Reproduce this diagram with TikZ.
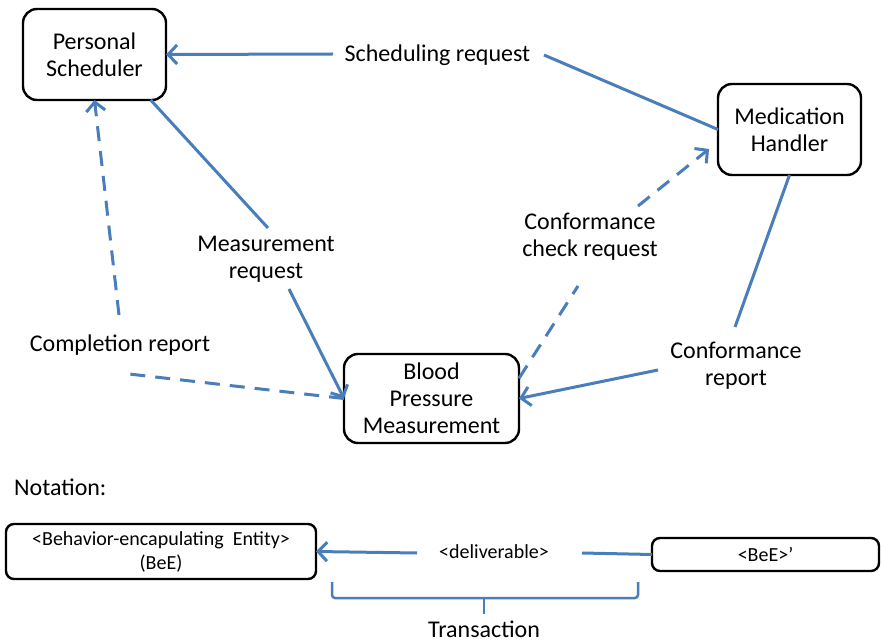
\documentclass[tikz,border=0pt]{standalone}
\usepackage{fontspec}
\setmainfont{Carlito}
\usetikzlibrary{arrows.meta}
\definecolor{linkblue}{RGB}{74,126,187}
\begin{document}
\begin{tikzpicture}[x=1pt,y=-1pt,
  entity/.style={draw=black,line width=2.4pt,rounded corners=14pt,align=center,
    font=\fontsize{24}{27}\selectfont,inner sep=0pt,outer sep=0pt},
  smallentity/.style={entity,rounded corners=8pt,font=\fontsize{20}{24}\selectfont},
  lbl/.style={align=center,font=\fontsize{24}{27}\selectfont,inner sep=0pt},
  smalllbl/.style={lbl,font=\fontsize{20}{24}\selectfont},
  link/.style={draw=linkblue,line width=3pt},
  dashlink/.style={link,dash pattern=on 15pt off 10pt},
  tip/.style={-{Straight Barb[length=9pt,width=19pt]}}
]
\useasboundingbox (0,0) rectangle (881,644);

% behaviour-encapsulating entities
\node[entity,minimum width=143pt,minimum height=91pt] (ps)  at (94.5,54.5)  {Personal\\Scheduler};
\node[entity,minimum width=143pt,minimum height=91pt] (mh)  at (789.5,129.5) {Medication\\Handler};
\node[entity,minimum width=175pt,minimum height=89pt] (bpm) at (431.5,398.5) {Blood\\Pressure\\Measurement};

% transaction labels
\node[lbl] (srl) at (437.5,55)  {Scheduling request};
\node[lbl] (mrl) at (266,259)   {Measurement\\request};
\node[lbl] (crl) at (120,345)   {Completion report};
\node[lbl] (ccl) at (590,237)   {Conformance\\check request};
\node[lbl] (cfl) at (736,366)   {Conformance\\report};

% free ends of the split connectors
\coordinate (srA) at (544,55);
\coordinate (srB) at (333,54);
\coordinate (mrA) at (268,228);
\coordinate (mrB) at (289,289);
\coordinate (crA) at (129,374);
\coordinate (crB) at (119,315);
\coordinate (ccA) at (578,286);
\coordinate (ccB) at (638,206);
\coordinate (ccT) at (709,149);
\coordinate (cfA) at (735,327);
\coordinate (cfB) at (658,370);

% scheduling request
\draw[link] (mh.west) -- (srA);
\draw[link,tip] (srB) -- (ps.east);
% measurement request
\draw[link] (ps.-39) -- (mrA);
\draw[link,tip] (mrB) -- (bpm.west);
% completion report
\draw[dashlink] (bpm.west) -- (crA);
\draw[dashlink,tip] (crB) -- (ps.south);
% conformance check request
\draw[dashlink] (bpm.13) -- (ccA);
\draw[dashlink,tip] (ccB) -- (ccT);
% conformance report
\draw[link] (mh.south) -- (cfA);
\draw[link,tip] (cfB) -- (bpm.east);

% notation legend
\node[lbl,anchor=west] (notation) at (14,487) {Notation:};
\node[smallentity,minimum width=310pt,minimum height=55pt] (bee) at (161,551.5)
  {<Behavior-encapulating\ \ Entity>\\(BeE)};
\node[smallentity,minimum width=227pt,minimum height=33pt] (bee2) at (765.5,554.5) {<BeE>'};
\node[smalllbl] (dl) at (494,552) {<deliverable>};
\coordinate (dlA) at (582,553);
\coordinate (dlB) at (417,553);
\draw[link] (bee2.west) -- (dlA);
\draw[link,tip] (dlB) -- (bee.east);

% bracket spanning one transaction
\coordinate (brL) at (332,582);
\coordinate (brR) at (638,582);
\coordinate (brM) at (484,598);
\coordinate (brT) at (484,614);
\draw[link,line width=2.5pt,rounded corners=3pt] (brL) -- (332,598) -- (638,598) -- (brR);
\draw[link,line width=2.5pt] (brM) -- (brT);
\node[lbl] (tr) at (484,629) {Transaction};
\end{tikzpicture}
\end{document}
